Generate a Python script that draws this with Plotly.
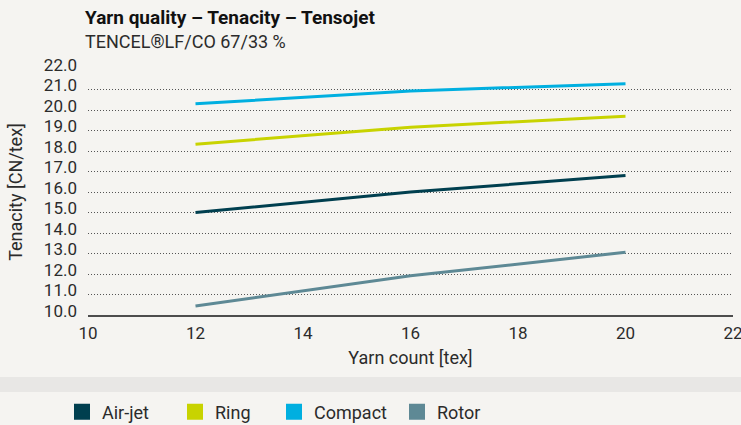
import plotly.graph_objects as go

yarn_count = [12, 16, 20]
air_jet = [15.0, 16.0, 16.8]
ring = [18.33, 19.16, 19.7]
compact = [20.3, 20.93, 21.28]
rotor = [10.44, 11.91, 13.06]

series_names = ["Air-jet", "Ring", "Compact", "Rotor"]
series_values = [air_jet, ring, compact, rotor]
series_colors = ["#003f4f", "#c8d300", "#00afe0", "#5e8995"]

x_ticks = [10, 12, 14, 16, 18, 20, 22]
y_ticks = [10, 11, 12, 13, 14, 15, 16, 17, 18, 19, 20, 21, 22]

FONT = "Roboto"
TXT = "#2b2b2b"
BG = "#f5f4f1"

PH = 245.7
PW = 645.0

def py(pix):
    return (315 - pix) / PH

def px(pix):
    return (pix - 88) / PW

fig = go.Figure()
for name, vals, col in zip(series_names, series_values, series_colors):
    fig.add_trace(go.Scatter(x=yarn_count, y=vals, mode="lines", name=name,
                             line=dict(color=col, width=3), showlegend=False,
                             hoverinfo="x+y+name"))

legend_ids = ["legend", "legend2", "legend3", "legend4"]
legend_left = [62, 175, 274, 397]
legend_cfg = {}
for name, col, lid, lx in zip(series_names, series_colors, legend_ids, legend_left):
    fig.add_trace(go.Scatter(x=[None], y=[None], mode="markers", name=name,
                             marker=dict(symbol="square", size=16, color=col),
                             showlegend=True, legend=lid))
    legend_cfg[lid] = dict(orientation="h", x=px(lx), y=py(412), xanchor="left", yanchor="middle",
                           font=dict(family=FONT, size=18, color=TXT), bgcolor="rgba(0,0,0,0)",
                           itemwidth=30)

fig.add_shape(type="rect", xref="paper", yref="paper",
              x0=-0.3, x1=1.3, y0=py(392), y1=py(377),
              fillcolor="#e8e7e5", line=dict(width=0), layer="below")

fig.add_annotation(text="<b>Yarn quality – Tenacity – Tensojet</b>", xref="paper", yref="paper",
                   x=px(83), y=py(18), xanchor="left", yanchor="middle", showarrow=False,
                   font=dict(family=FONT, size=19, color="#111"))
fig.add_annotation(text="TENCEL®LF/CO 67/33 %", xref="paper", yref="paper",
                   x=px(83), y=py(42), xanchor="left", yanchor="middle", showarrow=False,
                   font=dict(family=FONT, size=18, color=TXT))

fig.update_layout(
    width=741, height=425,
    margin=dict(l=88, r=8, t=69, b=110, pad=0, autoexpand=False),
    paper_bgcolor=BG, plot_bgcolor=BG,
    font=dict(family=FONT, size=17, color=TXT),
    showlegend=True,
    **legend_cfg,
    xaxis=dict(range=[10, 22], tickvals=x_ticks, ticktext=[str(v) for v in x_ticks],
               showgrid=False, zeroline=False, showline=True, linecolor="#4d4d4d", linewidth=2,
               ticks="", tickfont=dict(size=17, color=TXT), automargin=False,
               ticklabelstandoff=2, ticklabeloverflow="allow",
               title=dict(text="Yarn count [tex]", font=dict(size=18, color=TXT), standoff=9)),
    yaxis=dict(range=[10, 22], tickvals=y_ticks, ticktext=[f"{v:.1f}" for v in y_ticks],
               showgrid=True, gridcolor="#555555", gridwidth=1, griddash="1px,2px",
               zeroline=False, showline=False, ticks="", ticklabelstandoff=10,
               ticklabelshift=-4, automargin=False,
               tickfont=dict(size=17, color=TXT),
               title=dict(text="Tenacity [CN/tex]", font=dict(size=18, color=TXT), standoff=16)),
)

css_fix = (
    "var h=document.documentElement,b=document.body;"
    "h.style.cssText='margin:0;padding:0;width:741px;height:425px;overflow:hidden;background:" + BG + "';"
    "b.style.cssText='margin:0;padding:0;width:741px;height:425px;overflow:hidden;background:" + BG + "';"
    "if(b.firstElementChild){b.firstElementChild.style.cssText='margin:0;padding:0;width:741px;height:425px;overflow:hidden';}"
)

fig.write_html("out.html", config={"displayModeBar": False}, post_script=css_fix)
